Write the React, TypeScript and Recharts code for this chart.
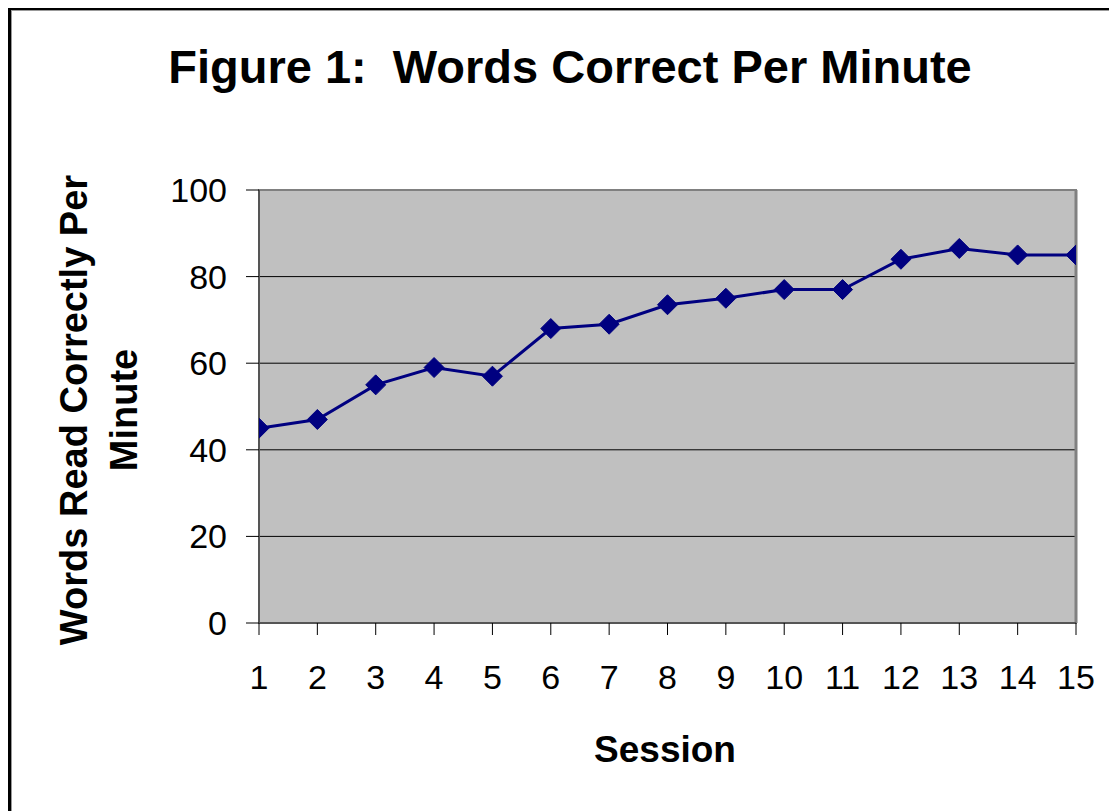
import React from 'react';
import { LineChart, Line, XAxis, YAxis, ReferenceArea, ReferenceLine } from 'recharts';

const sessions = [1, 2, 3, 4, 5, 6, 7, 8, 9, 10, 11, 12, 13, 14, 15];
const wordsCorrect = [45, 47, 55, 59, 57, 68, 69, 73.5, 75, 77, 77, 84, 86.5, 85, 85];
const yTicks = [0, 20, 40, 60, 80, 100];
const gridValues = [20, 40, 60, 80];

const titleText = 'Figure 1:  Words Correct Per Minute';
const yLabelLines = ['Words Read Correctly Per', 'Minute'];
const xLabelText = 'Session';

const data = sessions.map((s, i) => ({ session: s, wcpm: wordsCorrect[i] }));

const FONT = '"Liberation Sans", Arial, Helvetica, sans-serif';

const Diamond = (props: any) => {
  const { cx, cy } = props;
  if (cx == null || cy == null) return null;
  const r = 10;
  return (
    <polygon
      points={`${cx},${cy - r} ${cx + r},${cy} ${cx},${cy + r} ${cx - r},${cy}`}
      fill="#000080"
      stroke="#000080"
      strokeWidth={1}
    />
  );
};

export default function App() {
  return (
    <div
      style={{
        position: 'relative',
        width: 1109,
        height: 803,
        overflow: 'hidden',
        fontFamily: FONT,
        background: '#fff',
      }}
    >
      <div
        style={{
          position: 'absolute',
          left: 0,
          top: -1,
          width: 1300,
          height: 1000,
          border: '3px solid #000',
          boxShadow: 'inset 1px 1px 0 #999',
          boxSizing: 'border-box',
        }}
      />
      <div
        style={{
          position: 'absolute',
          left: 0,
          top: 35,
          width: 1124,
          textAlign: 'center',
          fontSize: 47,
          lineHeight: '47px',
          fontWeight: 'bold',
          whiteSpace: 'pre',
          color: '#000',
        }}
      >
        {titleText}
      </div>
      <div
        style={{
          position: 'absolute',
          left: 91 - 300,
          top: 402 - 50,
          width: 600,
          height: 100,
          transform: 'rotate(-90deg)',
          transformOrigin: '50% 50%',
          textAlign: 'center',
          fontSize: 38,
          lineHeight: '50px',
          fontWeight: 'bold',
          whiteSpace: 'pre',
          color: '#000',
        }}
      >
        {yLabelLines.map((l) => (
          <div key={l}>{l}</div>
        ))}
      </div>
      <div
        style={{
          position: 'absolute',
          left: 657 - 200,
          top: 723,
          width: 400,
          textAlign: 'center',
          fontSize: 37,
          lineHeight: '37px',
          fontWeight: 'bold',
          color: '#000',
        }}
      >
        {xLabelText}
      </div>
      <div style={{ position: 'absolute', left: 0, top: 0 }}>
        <LineChart
          width={1109}
          height={803}
          data={data}
          margin={{ top: 182, right: 41, bottom: 128, left: 171 }}
        >
          <ReferenceArea
            x1={1}
            x2={15}
            y1={0}
            y2={100}
            fill="#c0c0c0"
            fillOpacity={1}
            stroke="#808080"
            strokeWidth={2}
            ifOverflow="visible"
          />
          {gridValues.map((v) => (
            <ReferenceLine key={v} y={v} stroke="#000" strokeWidth={1} />
          ))}
          <ReferenceLine x={15} stroke="#808080" strokeWidth={3} />
          <XAxis
            dataKey="session"
            type="number"
            domain={[1, 15]}
            ticks={sessions}
            interval={0}
            height={60}
            tickSize={12}
            tickMargin={30}
            axisLine={{ stroke: '#555', strokeWidth: 2 }}
            tickLine={{ stroke: '#000', strokeWidth: 1 }}
            tick={{ fontSize: 34, fill: '#000', fontFamily: FONT }}
            allowDataOverflow
          />
          <YAxis
            type="number"
            domain={[0, 100]}
            ticks={yTicks}
            interval={0}
            width={80}
            tickSize={13}
            tickMargin={19}
            axisLine={{ stroke: '#555', strokeWidth: 2 }}
            tickLine={{ stroke: '#000', strokeWidth: 1 }}
            tick={{ fontSize: 34, fill: '#000', fontFamily: FONT }}
          />
          <Line
            type="linear"
            dataKey="wcpm"
            stroke="#000080"
            strokeWidth={3}
            dot={<Diamond />}
            activeDot={false}
            isAnimationActive={false}
          />
        </LineChart>
      </div>
    </div>
  );
}
